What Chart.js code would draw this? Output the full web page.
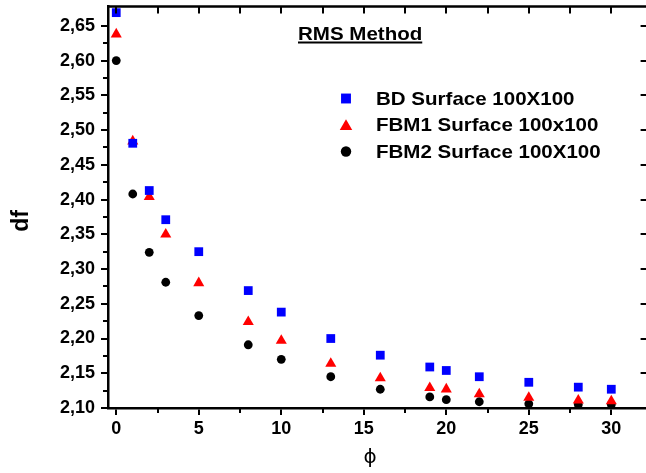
<!DOCTYPE html>
<html>
<head>
<meta charset="utf-8">
<script src="https://cdn.jsdelivr.net/npm/chart.js@4/dist/chart.umd.min.js"></script>
<style>
html,body{margin:0;padding:0;background:#fff;overflow:hidden;}
#wrap{position:relative;width:646px;height:473px;overflow:hidden;}
</style>
</head>
<body>
<div id="wrap"><canvas id="c" width="654" height="473"></canvas></div>
<script>
// ---- data ----
const phi = [0, 1, 2, 3, 5, 8, 10, 13, 16, 19, 20, 22, 25, 28, 30];
const bdValues   = [2.669, 2.481, 2.413, 2.371, 2.325, 2.269, 2.238, 2.200, 2.176, 2.159, 2.154, 2.145, 2.137, 2.130, 2.127];
const fbm1Values = [2.638, 2.484, 2.404, 2.350, 2.280, 2.224, 2.197, 2.164, 2.143, 2.129, 2.127, 2.120, 2.115, 2.111, 2.110];
const fbm2Values = [2.600, 2.408, 2.324, 2.281, 2.233, 2.191, 2.170, 2.145, 2.127, 2.116, 2.112, 2.109, 2.106, 2.105, 2.105];
const seriesNames = ['BD Surface 100X100', 'FBM1 Surface 100x100', 'FBM2 Surface 100X100'];
const xTicks = [0, 5, 10, 15, 20, 25, 30];
const yTicks = [2.10, 2.15, 2.20, 2.25, 2.30, 2.35, 2.40, 2.45, 2.50, 2.55, 2.60, 2.65];
const chartTitle = 'RMS Method';
const xTitle = 'ϕ';
const yTitle = 'df';

const toPts = (ys) => phi.map((x, i) => ({x: x, y: ys[i]}));

const TICK_FONT = {family: "'Liberation Sans', Arial, sans-serif", size: 18, weight: 'bold'};

function stretchedText(ctx, text, x, y, sx) {
  ctx.save();
  ctx.translate(x, y);
  ctx.scale(sx, 1);
  ctx.fillText(text, 0, 0);
  const w = ctx.measureText(text).width * sx;
  ctx.restore();
  return w;
}

const decorPlugin = {
  id: 'decor',
  afterDraw(chart) {
    const ctx = chart.ctx;
    const xs = chart.scales.x, ys = chart.scales.y;
    const a = chart.chartArea;
    ctx.save();
    ctx.strokeStyle = '#000';
    ctx.fillStyle = '#000';
    // frame top/right
    ctx.lineWidth = 2.5;
    ctx.beginPath();
    ctx.moveTo(a.left, a.top); ctx.lineTo(a.right, a.top);
    ctx.moveTo(a.right, a.top); ctx.lineTo(a.right, a.bottom);
    ctx.stroke();
    ctx.lineWidth = 2;
    // minor ticks bottom (outward) and top (inward)
    ctx.beginPath();
    for (let v = 0; v <= 32; v += 2.5) {
      const px = Math.round(xs.getPixelForValue(v));
      const major = (v % 5 === 0);
      if (!major) { ctx.moveTo(px, a.bottom); ctx.lineTo(px, a.bottom + 5); }
      ctx.moveTo(px, a.top); ctx.lineTo(px, a.top + 7);
    }
    // minor ticks left (outward), right (inward majors)
    for (let k = 0; k <= 23; k++) {
      const v = 2.10 + k * 0.025;
      if (v > 2.675) break;
      const py = Math.round(ys.getPixelForValue(v));
      if (k % 2 === 1) { ctx.moveTo(a.left, py); ctx.lineTo(a.left - 5, py); }
      else { ctx.moveTo(a.right, py); ctx.lineTo(a.right - 7, py); }
    }
    ctx.stroke();

    // title (underlined)
    ctx.font = "bold 19px 'Liberation Sans', Arial, sans-serif";
    ctx.textBaseline = 'middle';
    ctx.textAlign = 'left';
    const tx = 298, ty = 35;
    const tw = stretchedText(ctx, chartTitle, tx, ty, 1.08);
    ctx.fillRect(tx, 41.5, tw, 2);

    // legend
    const ly = [98.5, 125, 151.5];
    chart.data.datasets.forEach((ds, i) => {
      const st = {pointStyle: ds.pointStyle, radius: ds.pointRadius + 0.8, rotation: 0, borderWidth: 0};
      ctx.fillStyle = ds.backgroundColor;
      ctx.strokeStyle = ds.backgroundColor;
      Chart.helpers.drawPoint(ctx, st, 346, ly[i] + (ds.pointStyle === 'triangle' ? 1.5 : 0));
      ctx.fillStyle = '#000';
      stretchedText(ctx, ds.label, 376, ly[i] + 1, 1.08);
    });

    // axis titles
    ctx.fillStyle = '#000';
    ctx.textAlign = 'center';
    ctx.font = "20px 'DejaVu Sans', sans-serif";
    ctx.fillText(xTitle, 370, 458);
    ctx.save();
    ctx.translate(22, 221);
    ctx.rotate(-Math.PI / 2);
    ctx.font = "bold 23px 'Liberation Sans', Arial, sans-serif";
    ctx.fillText(yTitle, 0, 0);
    ctx.restore();
    ctx.restore();
  }
};

new Chart(document.getElementById('c'), {
  type: 'scatter',
  data: {
    datasets: [
      {label: seriesNames[0], data: toPts(bdValues), pointStyle: 'rect', pointRadius: 6.2, backgroundColor: '#0000ff', borderColor: '#0000ff', borderWidth: 0, clip: false},
      {label: seriesNames[1], data: toPts(fbm1Values), pointStyle: 'triangle', pointRadius: 6.4, backgroundColor: '#ff0000', borderColor: '#ff0000', borderWidth: 0, clip: false},
      {label: seriesNames[2], data: toPts(fbm2Values), pointStyle: 'circle', pointRadius: 4.4, backgroundColor: '#000000', borderColor: '#000000', borderWidth: 0, clip: false}
    ]
  },
  options: {
    responsive: false,
    animation: false,
    events: [],
    layout: {padding: {top: 6, right: 0, left: 0, bottom: 0}},
    plugins: {legend: {display: false}, tooltip: {enabled: false}, title: {display: false}},
    scales: {
      x: {
        type: 'linear', position: 'bottom', min: -0.5, max: 32.2,
        afterFit(s) { s.height = 65; s.paddingLeft = 0; s.paddingRight = 0; },
        border: {display: true, color: '#000', width: 2.5},
        grid: {display: true, drawOnChartArea: false, drawTicks: true, tickLength: 7, color: '#000', lineWidth: 2},
        ticks: {stepSize: 5, includeBounds: false, autoSkip: false, maxRotation: 0, color: '#000', font: TICK_FONT, padding: 3,
          callback: (v) => xTicks.includes(v) ? String(v) : ''}
      },
      y: {
        type: 'linear', position: 'left', min: 2.10, max: 2.678,
        afterFit(s) { s.width = 108; s.paddingTop = 0; s.paddingBottom = 0; },
        border: {display: true, color: '#000', width: 2.5},
        grid: {display: true, drawOnChartArea: false, drawTicks: true, tickLength: 7, color: '#000', lineWidth: 2},
        ticks: {stepSize: 0.05, includeBounds: false, autoSkip: false, maxTicksLimit: 40, color: '#000', font: TICK_FONT, padding: 6,
          callback: (v) => {
            const r = Math.round(v * 100) / 100;
            return yTicks.some(t => Math.abs(t - r) < 1e-6) ? r.toFixed(2).replace('.', ',') : '';
          }}
      }
    }
  },
  plugins: [decorPlugin]
});
</script>
</body>
</html>
